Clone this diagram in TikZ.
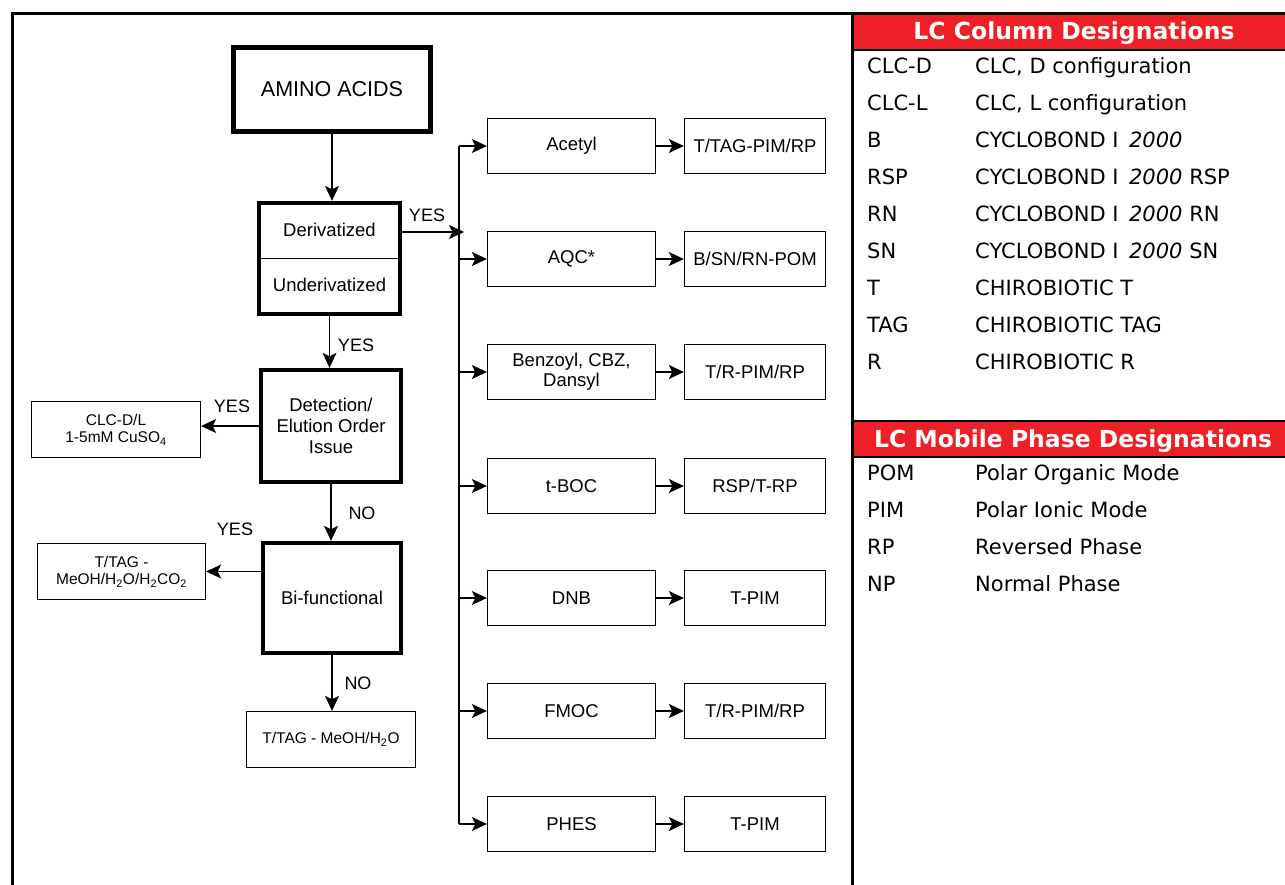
\documentclass[tikz,border=0pt]{standalone}
\usepackage{fontspec}
\setmainfont{Liberation Sans}
\newfontfamily\vfont{DejaVu Sans}
\usetikzlibrary{arrows.meta}
\definecolor{hdrred}{RGB}{236,32,38}
\begin{document}
\begin{tikzpicture}[x=1pt,y=-1pt,
  thickbox/.style={draw, line width=4.3pt, inner sep=0pt, align=center, font=\fontsize{18.5}{21}\selectfont},
  aminobox/.style={draw, line width=5.5pt, inner sep=0pt, align=center, font=\fontsize{21.5}{26}\selectfont},
  thinbox/.style={draw, line width=1.3pt, inner sep=0pt, align=center, font=\fontsize{18.5}{20}\selectfont},
  smallbox/.style={draw, line width=1.3pt, inner sep=0pt, align=center, font=\fontsize{15.5}{17.5}\selectfont},
  midbox/.style={thinbox, minimum width=168pt, minimum height=55pt},
  resbox/.style={thinbox, minimum width=141pt, minimum height=55pt},
  plain/.style={inner sep=0pt, font=\fontsize{18.5}{21}\selectfont},
  lbl/.style={inner sep=0pt, font=\fontsize{18}{21}\selectfont},
  conn/.style={line width=1.3pt},
  arr/.style={line width=1.3pt, -{Stealth[length=15pt,width=14pt,inset=3.5pt]}},
  hdr/.style={inner sep=0pt, anchor=base, text=white, font=\vfont\bfseries\fontsize{23.5}{28}\selectfont},
  key/.style={inner sep=0pt, anchor=base west, font=\vfont\fontsize{21}{24}\selectfont},
  val/.style={inner sep=0pt, anchor=base west, font=\vfont\fontsize{21}{24}\selectfont}
]
\useasboundingbox (0,0) rectangle (1285,884);

% ---------- right panel headers ----------
\fill[hdrred] (852,13) rectangle (1292,50);
\draw[line width=2.5pt] (852,50) -- (1292,50);
\fill[hdrred] (852,421) rectangle (1292,457);
\draw[line width=2.5pt] (852,421) -- (1292,421);
\draw[line width=2.5pt] (852,457) -- (1292,457);

% ---------- frame ----------
\draw[line width=3pt] (12,892) -- (12,13) -- (1292,13);
\draw[line width=3pt] (852,13) -- (852,892);

\node[hdr] (h1) at (1074,39) {LC Column Designations};
\node[hdr] (h2) at (1073,447) {LC Mobile Phase Designations};

\node[key] (k1) at (867,73) {CLC-D};
\node[val] (v1) at (975,73) {CLC, D configuration};
\node[key] (k2) at (867,110) {CLC-L};
\node[val] (v2) at (975,110) {CLC, L configuration};
\node[key] (k3) at (867,147) {B};
\node[val] (v3) at (975,147) {CYCLOBOND I\hspace{0.5em}\textit{2000}};
\node[key] (k4) at (867,184) {RSP};
\node[val] (v4) at (975,184) {CYCLOBOND I\hspace{0.5em}\textit{2000} RSP};
\node[key] (k5) at (867,221) {RN};
\node[val] (v5) at (975,221) {CYCLOBOND I\hspace{0.5em}\textit{2000} RN};
\node[key] (k6) at (867,258) {SN};
\node[val] (v6) at (975,258) {CYCLOBOND I\hspace{0.5em}\textit{2000} SN};
\node[key] (k7) at (867,295) {T};
\node[val] (v7) at (975,295) {CHIROBIOTIC T};
\node[key] (k8) at (867,332) {TAG};
\node[val] (v8) at (975,332) {CHIROBIOTIC TAG};
\node[key] (k9) at (867,369) {R};
\node[val] (v9) at (975,369) {CHIROBIOTIC R};

\node[key] (p1) at (867,480) {POM};
\node[val] (q1) at (975,480) {Polar Organic Mode};
\node[key] (p2) at (867,517) {PIM};
\node[val] (q2) at (975,517) {Polar Ionic Mode};
\node[key] (p3) at (867,554) {RP};
\node[val] (q3) at (975,554) {Reversed Phase};
\node[key] (p4) at (867,591) {NP};
\node[val] (q4) at (975,591) {Normal Phase};

% ---------- left flow ----------
\node[aminobox, minimum width=197pt, minimum height=84pt] (amino) at (332,89.5) {AMINO ACIDS};

\node[thickbox, minimum width=141pt, minimum height=111pt] (deriv) at (329.5,258.5) {};
\draw[conn] (deriv.west) -- (deriv.east);
\node[plain] (dtxt) at (329.5,230) {Derivatized};
\node[plain] (utxt) at (329.5,285) {Underivatized};

\node[thickbox, minimum width=140pt, minimum height=112pt] (det) at (331,426) {Detection/\\Elution Order\\Issue};
\node[thickbox, minimum width=138pt, minimum height=110pt] (bi) at (332,598) {Bi-functional};

\node[smallbox, minimum width=169pt, minimum height=56pt] (clc) at (116,429.5) {CLC-D/L\\1-5mM CuSO\textsubscript{4}};
\node[smallbox, minimum width=168pt, minimum height=56pt] (tt2) at (121.5,571.5) {T/TAG -\\MeOH/H\textsubscript{2}O/H\textsubscript{2}CO\textsubscript{2}};
\node[smallbox, minimum width=169pt, minimum height=56pt] (tt1) at (331,739.5) {T/TAG - MeOH/H\textsubscript{2}O};

\draw[arr] (amino.south) -- (amino.south |- deriv.north);
\draw[arr] (deriv.south) -- (deriv.south |- det.north);
\draw[arr] (det.south) -- (det.south |- bi.north);
\draw[arr] (bi.south) -- (bi.south |- tt1.north);
\draw[arr] (det.west) -- (det.west -| clc.east);
\draw[arr] (bi.west |- tt2.east) -- (tt2.east);

\node[lbl] (y1) at (427,215) {YES};
\node[lbl] (y2) at (356,345) {YES};
\node[lbl] (y3) at (232,406) {YES};
\node[lbl] (n1) at (362,513) {NO};
\node[lbl] (y4) at (235,529) {YES};
\node[lbl] (n2) at (358,683) {NO};

% ---------- derivatized branch ----------
\node[midbox] (m1) at (571.5,146) {Acetyl};
\node[midbox] (m2) at (571.5,259) {AQC*};
\node[midbox] (m3) at (571.5,372) {Benzoyl, CBZ,\\Dansyl};
\node[midbox] (m4) at (571.5,486) {t-BOC};
\node[midbox] (m5) at (571.5,598) {DNB};
\node[midbox] (m6) at (571.5,711) {FMOC};
\node[midbox] (m7) at (571.5,824) {PHES};

\node[resbox] (r1) at (755,146) {T/TAG-PIM/RP};
\node[resbox] (r2) at (755,259) {B/SN/RN-POM};
\node[resbox] (r3) at (755,372) {T/R-PIM/RP};
\node[resbox] (r4) at (755,486) {RSP/T-RP};
\node[resbox] (r5) at (755,598) {T-PIM};
\node[resbox] (r6) at (755,711) {T/R-PIM/RP};
\node[resbox] (r7) at (755,824) {T-PIM};

\coordinate (bt) at (459,146);
\coordinate (bb) at (459,824);
\coordinate (yj) at (464,232);
\draw[conn] (bt) -- (bb);
\draw[arr] (deriv.east |- yj) -- (yj);

\foreach \i in {1,...,7}{
  \draw[arr] (bt |- m\i.west) -- (m\i.west);
  \draw[arr] (m\i.east) -- (r\i.west);
}
\end{tikzpicture}
\end{document}
